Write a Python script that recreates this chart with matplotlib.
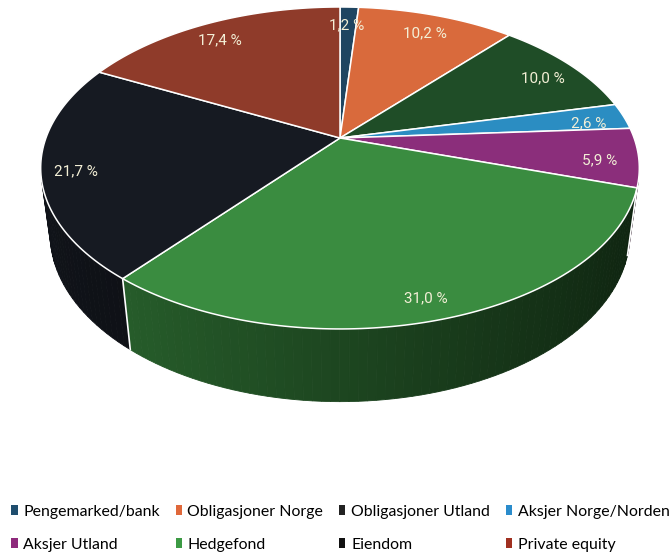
import numpy as np
import matplotlib
matplotlib.use("Agg")
import matplotlib.pyplot as plt
from matplotlib.patches import Polygon, Patch
import matplotlib.colors as mcolors

# data
categories = ["Pengemarked/bank", "Obligasjoner Norge", "Obligasjoner Utland",
              "Aksjer Norge/Norden", "Aksjer Utland", "Hedgefond", "Eiendom",
              "Private equity"]
shares = [1.2, 10.2, 10.0, 2.6, 5.9, 31.0, 21.7, 17.4]
top_colors = ["#1f4561", "#d96a3c", "#1f4d27", "#2b8dc2",
              "#8b2e7b", "#3a8c40", "#161a22", "#8f3b2a"]
legend_colors = ["#1f4e6e", "#e0683a", "#222222", "#2a8ccc",
                 "#8e2a7c", "#3c9a44", "#111111", "#a03020"]

# simple perspective camera for the 3d look
F = 1341.0
D = 4.56
elev = np.radians(31.9)
CX, CY = 340.0, 138.0
H = 0.27


def project(t, r=1.0, z=0.0):
    c, s = np.cos(elev), np.sin(elev)
    x = r * np.cos(t)
    y = r * np.sin(t)
    depth = D + c * y - s * z
    px = CX + F * x / depth
    py = CY - F * (s * y + c * z) / depth
    return px, py


fig = plt.figure(figsize=(6.72, 5.55), dpi=100)
ax = fig.add_axes([0, 0, 1, 1])
ax.set_xlim(0, 672)
ax.set_ylim(555, 0)
ax.axis("off")

bounds = 90 - 360 * np.concatenate([[0], np.cumsum(shares)]) / 100.0
bounds = np.radians(bounds)

# visible part of the side wall
alpha = np.arcsin(1.0 / (D * np.cos(elev)))
vis_lo, vis_hi = -np.pi + alpha, -alpha

for i in range(len(shares)):
    t0, t1 = bounds[i + 1], bounds[i]   # t0 < t1
    for shift in (0, -2 * np.pi):
        a, b = max(t0 + shift, vis_lo), min(t1 + shift, vis_hi)
        if b <= a:
            continue
        n = max(2, int(np.degrees(b - a) / 1.5))
        ts = np.linspace(a, b, n + 1)
        base = np.array(mcolors.to_rgb(top_colors[i]))
        for k in range(n):
            tm = 0.5 * (ts[k] + ts[k + 1])
            f = 0.5 - 0.25 * np.cos(tm)
            col = np.clip(base * f, 0, 1)
            p1 = project(ts[k]); p2 = project(ts[k + 1])
            p3 = project(ts[k + 1], z=-H); p4 = project(ts[k], z=-H)
            ax.add_patch(Polygon([p1, p2, p3, p4], closed=True, facecolor=col,
                                 edgecolor=col, linewidth=0.6))

# white vertical edges on the side at slice borders
for t in bounds[1:-1]:
    tt = (t + np.pi) % (2 * np.pi) - np.pi
    if vis_lo < tt < vis_hi:
        p1 = project(tt); p2 = project(tt, z=-H)
        ax.plot([p1[0], p2[0]], [p1[1], p2[1]], color="white", lw=1.2)

# top surface
for i in range(len(shares)):
    t0, t1 = bounds[i + 1], bounds[i]
    ts = np.linspace(t1, t0, max(3, int(np.degrees(t1 - t0))))
    pts = [project(0, r=0.0)] + [project(t) for t in ts]
    ax.add_patch(Polygon(pts, closed=True, facecolor=top_colors[i],
                         edgecolor="white", linewidth=1.1, joinstyle="round"))

# percentage labels
for i, v in enumerate(shares):
    tm = 0.5 * (bounds[i] + bounds[i + 1])
    x, y = project(tm, r=0.88)
    ax.text(x - 2, y + 5, f"{v:.1f} %".replace(".", ","), color="#f3efd6",
            fontsize=11, family=["Roboto", "DejaVu Sans"],
            ha="center", va="center")

# legend, filled row by row
order = [0, 4, 1, 5, 2, 6, 3, 7]
handles = [Patch(facecolor=legend_colors[i], edgecolor="none") for i in order]
fig.legend(handles, [categories[i] for i in order], ncol=4,
           loc="lower left", bbox_to_anchor=(0.012, 0.0), frameon=False,
           prop={"family": ["Lato", "DejaVu Sans"], "size": 11.4},
           handlelength=0.4, handleheight=0.6, handletextpad=0.35,
           columnspacing=1.0, labelspacing=1.2, borderaxespad=0.1,
           borderpad=0.1)

fig.savefig("out.png", dpi=100)
